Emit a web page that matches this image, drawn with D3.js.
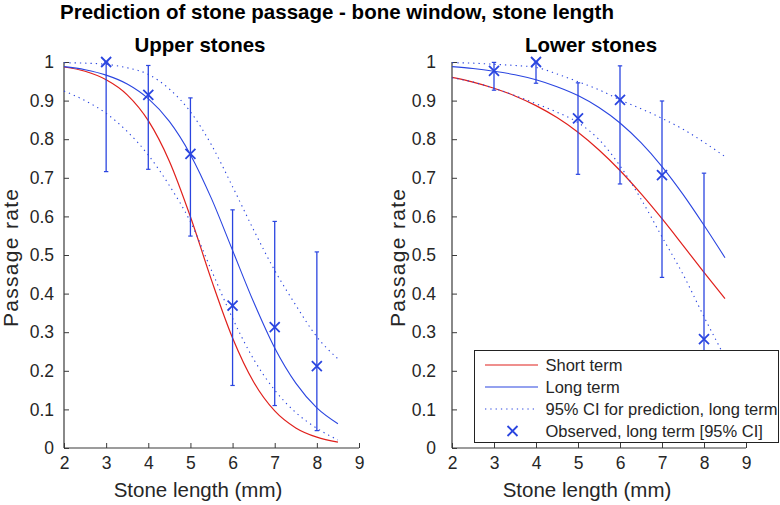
<!DOCTYPE html>
<html>
<head>
<meta charset="utf-8">
<script src="https://cdn.jsdelivr.net/npm/d3@7"></script>
<style>
  html, body { margin: 0; padding: 0; background: #fff; }
  svg { display: block; font-family: "Liberation Sans", Arial, Helvetica, sans-serif; }
</style>
</head>
<body>
<svg id="chart" width="780" height="505"></svg>
<script>
// ---------- data ----------
const xTicks = [2, 3, 4, 5, 6, 7, 8, 9];
const yTicks = [0, 0.1, 0.2, 0.3, 0.4, 0.5, 0.6, 0.7, 0.8, 0.9, 1];
const yTickLabels = ["0", "0.1", "0.2", "0.3", "0.4", "0.5", "0.6", "0.7", "0.8", "0.9", "1"];

const curveX = [2, 2.5, 3, 3.5, 4, 4.5, 5, 5.5, 6, 6.5, 7, 7.5, 8, 8.5];

// Upper stones
const upperShort = [0.987, 0.976, 0.954, 0.915, 0.848, 0.743, 0.599, 0.435, 0.285, 0.171, 0.096, 0.052, 0.028, 0.015];
const upperLong  = [0.988, 0.980, 0.966, 0.943, 0.905, 0.846, 0.760, 0.646, 0.512, 0.378, 0.259, 0.168, 0.104, 0.063];
const upperCIHi  = [0.998, 0.997, 0.994, 0.985, 0.968, 0.930, 0.871, 0.785, 0.677, 0.565, 0.460, 0.370, 0.288, 0.231];
const upperCILo  = [0.925, 0.900, 0.867, 0.820, 0.759, 0.680, 0.586, 0.460, 0.336, 0.230, 0.150, 0.092, 0.051, 0.021];

// Lower stones
const lowerShort = [0.960, 0.948, 0.932, 0.912, 0.887, 0.856, 0.818, 0.772, 0.719, 0.659, 0.594, 0.525, 0.455, 0.387];
const lowerLong  = [0.988, 0.983, 0.976, 0.967, 0.954, 0.936, 0.913, 0.882, 0.842, 0.791, 0.729, 0.657, 0.577, 0.493];
const lowerCIHi  = [0.998, 0.997, 0.994, 0.991, 0.986, 0.969, 0.949, 0.928, 0.902, 0.879, 0.854, 0.826, 0.792, 0.755];
const lowerCILo  = [0.959, 0.948, 0.932, 0.913, 0.892, 0.870, 0.843, 0.799, 0.731, 0.645, 0.547, 0.450, 0.340, 0.235];

// Observed, long term [95% CI]
const obsX = [3, 4, 5, 6, 7, 8];
const upperObs   = [1.000, 0.915, 0.762, 0.369, 0.313, 0.212];
const upperObsLo = [0.716, 0.722, 0.549, 0.162, 0.110, 0.045];
const upperObsHi = [1.000, 0.991, 0.907, 0.617, 0.587, 0.508];

const lowerObs   = [0.977, 1.000, 0.854, 0.902, 0.707, 0.282];
const lowerObsLo = [0.927, 0.945, 0.709, 0.684, 0.442, 0.060];
const lowerObsHi = [0.999, 1.000, 0.946, 0.990, 0.899, 0.712];

const legendLabels = ["Short term", "Long term", "95% CI for prediction, long term", "Observed, long term [95% CI]"];

// ---------- styles ----------
const RED = "#e0201c";
const BLUE = "#2a45e0";
const AXIS = "#3a3a3a";
const TXT = "#262626";

const svg = d3.select("#chart");

svg.append("text")
  .attr("x", 60).attr("y", 18.5)
  .attr("font-size", 20.5).attr("font-weight", "bold").attr("fill", "#000")
  .text("Prediction of stone passage - bone window, stone length");

const panels = [
  { title: "Upper stones", titleX: 200, xlabX: 198, left: 64, right: 359, ylabX: 17.5, tickGap: 10,
    short: upperShort, long: upperLong, hi: upperCIHi, lo: upperCILo,
    obs: upperObs, obsLo: upperObsLo, obsHi: upperObsHi },
  { title: "Lower stones", titleX: 591, xlabX: 587, left: 452, right: 746, ylabX: 404.5, tickGap: 16,
    short: lowerShort, long: lowerLong, hi: lowerCIHi, lo: lowerCILo,
    obs: lowerObs, obsLo: lowerObsLo, obsHi: lowerObsHi }
];

const plotTop = 62, plotBottom = 448;

panels.forEach((p, pi) => {
  const x = d3.scaleLinear().domain([2, 9]).range([p.left, p.right]);
  const y = d3.scaleLinear().domain([0, 1]).range([plotBottom, plotTop]);
  const g = svg.append("g");

  // axes
  const xAxis = d3.axisBottom(x).tickValues(xTicks).tickSize(-5).tickPadding(9).tickFormat(d3.format("d"));
  const gx = g.append("g").attr("transform", `translate(0,${plotBottom})`).call(xAxis);
  const yAxis = d3.axisLeft(y).tickValues(yTicks).tickSize(-5).tickPadding(p.tickGap)
    .tickFormat((d, i) => yTickLabels[i]);
  const gy = g.append("g").attr("transform", `translate(${p.left},0)`).call(yAxis);
  [gx, gy].forEach(a => {
    a.select(".domain").attr("stroke", AXIS).attr("stroke-width", 1.2);
    a.selectAll(".tick line").attr("stroke", AXIS).attr("stroke-width", 1);
    a.selectAll(".tick text").attr("fill", TXT).attr("font-size", 17.5)
      .attr("font-family", "'Liberation Sans', Arial, sans-serif");
  });
  gx.select(".domain").attr("d", `M${p.left},0H${p.right}`);
  gy.select(".domain").attr("d", `M0,${plotBottom}V${plotTop}`);

  // titles and labels
  svg.append("text").attr("x", p.titleX).attr("y", 52).attr("text-anchor", "middle")
    .attr("font-size", 20.5).attr("font-weight", "bold").attr("fill", "#000").text(p.title);
  svg.append("text").attr("x", p.xlabX).attr("y", 497).attr("text-anchor", "middle")
    .attr("font-size", 20.5).attr("fill", TXT).text("Stone length (mm)");
  svg.append("text").attr("transform", `translate(${p.ylabX},258) rotate(-90)`).attr("text-anchor", "middle")
    .attr("font-size", 21).attr("fill", TXT)
    .attr("textLength", 138).attr("lengthAdjust", "spacing").text("Passage rate");

  const line = vals => d3.line().x((d, i) => x(curveX[i])).y(d => y(d)).curve(d3.curveMonotoneX)(vals);

  g.append("path").attr("d", line(p.short)).attr("fill", "none").attr("stroke", RED).attr("stroke-width", 1.2);
  g.append("path").attr("d", line(p.long)).attr("fill", "none").attr("stroke", BLUE).attr("stroke-width", 1.1);
  [p.hi, p.lo].forEach(v => {
    g.append("path").attr("d", line(v)).attr("fill", "none").attr("stroke", BLUE)
      .attr("stroke-width", 1.1).attr("stroke-dasharray", "1.3,4");
  });

  // error bars
  const eb = g.append("g").attr("stroke", BLUE).attr("fill", "none");
  obsX.forEach((xv, i) => {
    const cx = x(xv);
    eb.append("line").attr("x1", cx).attr("x2", cx).attr("y1", y(p.obsLo[i])).attr("y2", y(p.obsHi[i])).attr("stroke-width", 1.3);
    [p.obsLo[i], p.obsHi[i]].forEach(v => {
      eb.append("line").attr("x1", cx - 2.2).attr("x2", cx + 2.2).attr("y1", y(v)).attr("y2", y(v)).attr("stroke-width", 1.2);
    });
    const cy = y(p.obs[i]), s = 5;
    eb.append("path").attr("d", `M${cx - s},${cy - s}L${cx + s},${cy + s}M${cx - s},${cy + s}L${cx + s},${cy - s}`)
      .attr("stroke-width", 1.8);
  });

  // legend on lower plot
  if (pi === 1) {
    const lg = svg.append("g");
    lg.append("rect").attr("x", 474.5).attr("y", 350.5).attr("width", 304).attr("height", 92)
      .attr("fill", "#fff").attr("stroke", "#222").attr("stroke-width", 1);
    const rows = [365, 387, 409, 431];
    const styles = [
      { stroke: RED, dash: null },
      { stroke: BLUE, dash: null },
      { stroke: BLUE, dash: "1.3,4" },
      { marker: true }
    ];
    rows.forEach((ry, i) => {
      const st = styles[i];
      if (st.marker) {
        const cx = 512.5, s = 5;
        lg.append("path").attr("d", `M${cx - s},${ry - s}L${cx + s},${ry + s}M${cx - s},${ry + s}L${cx + s},${ry - s}`)
          .attr("stroke", BLUE).attr("stroke-width", 1.8).attr("fill", "none");
      } else {
        const ln = lg.append("line").attr("x1", 485).attr("x2", 538).attr("y1", ry).attr("y2", ry)
          .attr("stroke", st.stroke).attr("stroke-width", 1.2);
        if (st.dash) ln.attr("stroke-dasharray", st.dash);
      }
      lg.append("text").attr("x", 545.5).attr("y", ry + 6).attr("font-size", 16.5).attr("fill", TXT)
        .text(legendLabels[i]);
    });
  }
});
</script>
</body>
</html>
